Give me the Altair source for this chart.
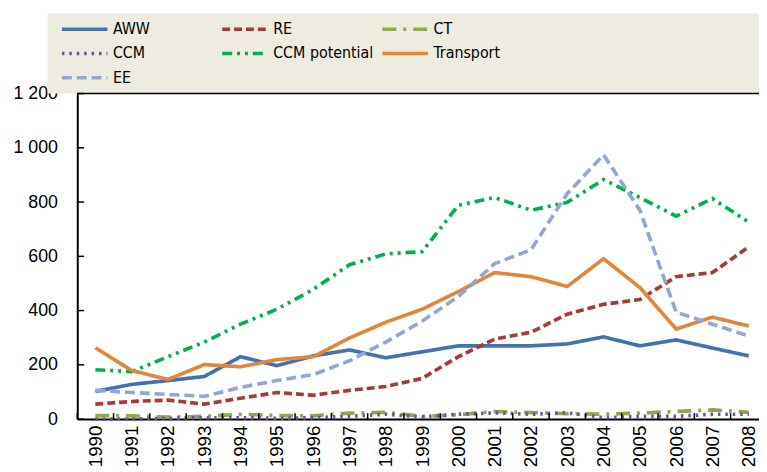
import altair as alt
import pandas as pd

years = list(range(1990, 2009))
series = ["AWW", "RE", "CT", "CCM", "CCM potential", "Transport", "EE"]
aww = [102, 128, 142, 157, 230, 197, 233, 255, 226, 248, 270, 270, 270, 277, 303, 270, 292, 262, 233]
re_vals = [55, 65, 70, 55, 77, 98, 88, 106, 120, 150, 230, 295, 320, 387, 423, 441, 525, 540, 635]
ct = [13, 12, 7, 10, 18, 13, 12, 22, 25, 10, 16, 28, 24, 20, 18, 22, 28, 34, 25]
ccm = [0, 0, 3, 5, 5, 3, 5, 10, 18, 8, 18, 23, 18, 23, 5, 10, 10, 18, 18]
ccm_pot = [182, 175, 230, 284, 350, 405, 478, 569, 609, 617, 788, 817, 770, 799, 883, 817, 748, 813, 726]
transport = [263, 179, 146, 201, 193, 219, 230, 299, 357, 405, 470, 540, 525, 489, 591, 485, 332, 376, 343]
ee = [106, 98, 91, 84, 117, 142, 164, 215, 284, 361, 452, 573, 624, 831, 974, 770, 394, 350, 306]
y_ticks = [0, 200, 400, 600, 800, 1000, 1200]

colors = ["#4272B2", "#AA3A37", "#8AAB4D", "#7050A0", "#00B050", "#E2863C", "#91A8D2"]
dashes = [[1, 0], [8, 4], [14, 7, 3, 7], [2.5, 5], [10, 5, 3, 5, 3, 5], [1, 0], [10, 5]]

vals = [aww, re_vals, ct, ccm, ccm_pot, transport, ee]
rows = []
for s, v in zip(series, vals):
    for yr, val in zip(years, v):
        rows.append({"year": yr, "value": val, "series": s})
df = pd.DataFrame(rows)
ticks_df = pd.DataFrame({"t": y_ticks})
years_df = pd.DataFrame({"year": years})

W, H = 689, 329
xscale = alt.Scale(type="band", domain=years, range=[0, 697], paddingInner=0, paddingOuter=0)
yscale = alt.Scale(domain=[0, 1200], nice=False)

LEGEND_FONT = "DejaVu Sans Condensed, DejaVu Sans, sans-serif"

legend_box = alt.Chart(years_df.head(1)).mark_rect(color="#EEECE1").encode(
    x=alt.value(-30), x2=alt.value(W + 20), y=alt.value(-81), y2=alt.value(0)
)
top_border = alt.Chart(years_df.head(1)).mark_rule(color="black", strokeWidth=1.5).encode(
    x=alt.value(0), x2=alt.value(W + 20), y=alt.value(0)
)

lines = alt.Chart(df).mark_line(strokeWidth=3.7).encode(
    x=alt.X("year:O", scale=xscale, bandPosition=0.5,
            axis=alt.Axis(title=None, labelAngle=270, tickBand="extent", tickSize=0,
                          labelPadding=6, labelFont="Liberation Sans", labelFontSize=19,
                          labelColor="black", domainColor="black", domainWidth=2,
                          grid=True, gridColor="white", gridWidth=1.5)),
    y=alt.Y("value:Q", scale=yscale,
            axis=alt.Axis(title=None, values=y_ticks, tickSize=0, labelPadding=20,
                          labelFont="Liberation Sans", labelFontSize=18, labelColor="black",
                          labelExpr="replace(format(datum.value, ','), ',', ' ')",
                          domainColor="black", domainWidth=2,
                          grid=True, gridColor="white", gridWidth=1.5)),
    color=alt.Color("series:N", scale=alt.Scale(domain=series, range=colors),
                    legend=alt.Legend(orient="none", legendX=-0.5, legendY=-73, columns=3,
                                      direction="horizontal", symbolType="M-4.6,0H4.6",
                                      symbolSize=100, symbolStrokeWidth=3.5,
                                      labelFont=LEGEND_FONT, labelFontSize=16,
                                      labelColor="black", labelOffset=20.5, columnPadding=2,
                                      rowPadding=8.5, gridAlign="all", padding=0,
                                      title=None, labelLimit=300)),
    strokeDash=alt.StrokeDash("series:N", scale=alt.Scale(domain=series, range=dashes),
                              legend=None),
    order=alt.Order("year:O"),
)

yt = alt.Chart(ticks_df).mark_rule(color="black", strokeWidth=1.5).encode(
    y=alt.Y("t:Q", scale=yscale), x=alt.value(0), x2=alt.value(7)
)
xt = alt.Chart(years_df).mark_rule(color="black", strokeWidth=1.5).encode(
    x=alt.X("year:O", scale=xscale, bandPosition=0), y=alt.value(H - 6), y2=alt.value(H)
)

chart = alt.layer(legend_box, top_border, lines, yt, xt).properties(
    width=W, height=H,
    padding={"left": 70, "top": 84, "right": 0, "bottom": 51},
    autosize=alt.AutoSizeParams(type="none"),
).configure_view(fill="#F0FFFF", stroke=None).configure(background="white")

chart.save("out.html", embed_options={"renderer": "svg", "actions": False})
